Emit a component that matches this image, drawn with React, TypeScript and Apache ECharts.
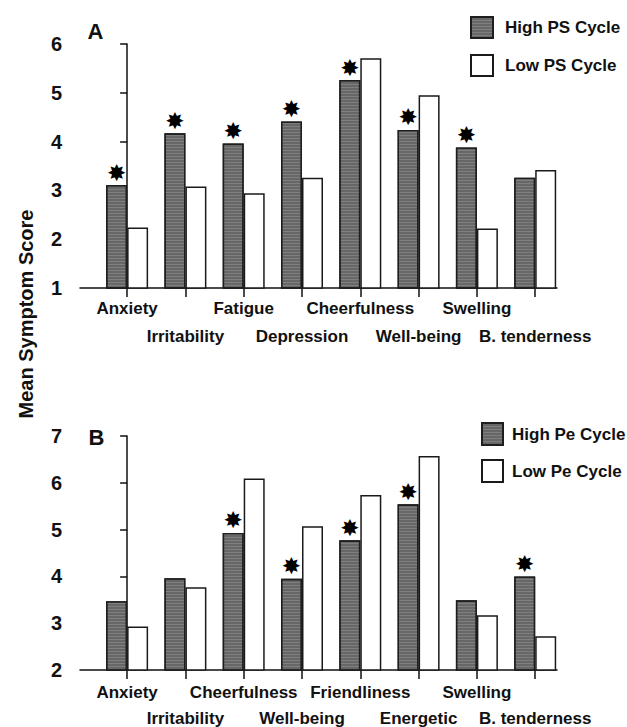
import React, { useEffect, useRef } from "react";
import * as echarts from "echarts";

// Panel A
const categoriesA = ["Anxiety", "Irritability", "Fatigue", "Depression", "Cheerfulness", "Well-being", "Swelling", "B. tenderness"];
const highPS = [3.11, 4.17, 3.96, 4.41, 5.26, 4.24, 3.88, 3.26];
const lowPS = [2.24, 3.08, 2.94, 3.26, 5.71, 4.95, 2.22, 3.42];
const sigA = [true, true, true, true, true, true, true, false];

// Panel B
const categoriesB = ["Anxiety", "Irritability", "Cheerfulness", "Well-being", "Friendliness", "Energetic", "Swelling", "B. tenderness"];
const highPe = [3.47, 3.96, 4.93, 3.95, 4.77, 5.54, 3.49, 4.0];
const lowPe = [2.93, 3.77, 6.09, 5.07, 5.74, 6.57, 3.17, 2.72];
const sigB = [false, false, true, true, true, true, false, true];

const yTicksA = [1, 2, 3, 4, 5, 6];
const yTicksB = [2, 3, 4, 5, 6, 7];

const FONT = "'Liberation Sans', Arial, Helvetica, sans-serif";
const INK = "#111";

export default function App() {
  const ref = useRef<HTMLDivElement>(null);

  useEffect(() => {
    if (!ref.current) return;
    const chart = echarts.init(ref.current, null, { renderer: "svg" });

    const idx = categoriesA.map((_, i) => i);
    const evenIdx = idx.filter((i) => i % 2 === 0);
    const oddIdx = idx.filter((i) => i % 2 === 1);
    const pairs = (vals: number[]) => vals.map((v, i) => [i, v]);

    const labelStyle = {
      fontFamily: FONT,
      fontWeight: "bold",
      fontSize: 17,
      color: INK,
      hideOverlap: false,
    };

    // main axis: line, all ticks, labels of even categories (upper row)
    const xMain = (gridIndex: number, cats: string[], margin: number) => ({
      type: "value",
      gridIndex,
      position: "bottom",
      min: -0.808,
      max: 7.374,
      axisLine: { show: true, onZero: false, lineStyle: { color: INK, width: 1.5 } },
      axisTick: { show: true, customValues: idx, length: 9, lineStyle: { color: INK, width: 1.5 } },
      axisLabel: { ...labelStyle, customValues: evenIdx, margin, formatter: (v: number) => cats[Math.round(v)] },
      splitLine: { show: false },
    });

    // secondary axis: labels of odd categories (lower row)
    const xOdd = (gridIndex: number, cats: string[], margin: number) => ({
      type: "value",
      gridIndex,
      position: "bottom",
      offset: 0,
      min: -0.808,
      max: 7.374,
      axisLine: { show: false, onZero: false },
      axisTick: { show: false },
      axisLabel: { ...labelStyle, customValues: oddIdx, margin, formatter: (v: number) => cats[Math.round(v)] },
      splitLine: { show: false },
    });

    const yAxisFor = (gridIndex: number, ticks: number[]) => ({
      type: "value",
      gridIndex,
      min: ticks[0],
      max: ticks[ticks.length - 1],
      interval: 1,
      axisLine: { show: true, lineStyle: { color: INK, width: 1.5 } },
      axisTick: { show: true, length: 7, lineStyle: { color: INK, width: 1.5 } },
      axisLabel: { margin: 18, fontFamily: FONT, fontWeight: "bold", fontSize: 20, color: INK, showMinLabel: true, showMaxLabel: true },
      splitLine: { show: false },
    });

    const highStyle = {
      color: "#676767",
      borderColor: "#1e1e1e",
      borderWidth: 1.4,
      decal: {
        symbol: "rect",
        symbolSize: 1,
        color: "rgba(255,255,255,0.16)",
        dashArrayX: [1, 0],
        dashArrayY: [1, 2],
        rotation: 0,
      },
    };
    const lowStyle = { color: "#ffffff", borderColor: "#1a1a1a", borderWidth: 1.5 };

    const starLabel = (sig: boolean[]) => ({
      show: true,
      position: "top",
      distance: 1,
      fontFamily: "'DejaVu Sans', sans-serif",
      fontSize: 23,
      color: "#000",
      formatter: (p: any) => (sig[p.dataIndex] ? "✸" : ""),
    });

    const legendFor = (names: string[], left: number, top: number, w: number, h: number, gap: number, pad: number) => ({
      data: names,
      orient: "vertical",
      left,
      top,
      itemWidth: w,
      itemHeight: h,
      itemGap: gap,
      icon: "rect",
      padding: 0,
      textStyle: { fontFamily: FONT, fontWeight: "bold", fontSize: 17, color: INK, padding: [0, 0, 0, pad] },
    });

    chart.setOption({
      animation: false,
      backgroundColor: "#ffffff",
      grid: [
        { left: 80, right: 70, top: 44, height: 244 },
        { left: 80, right: 70, top: 436, height: 235 },
      ],
      xAxis: [
        xMain(0, categoriesA, 12),
        xOdd(0, categoriesA, 40),
        xMain(1, categoriesB, 14),
        xOdd(1, categoriesB, 40),
      ],
      yAxis: [yAxisFor(0, yTicksA), yAxisFor(1, yTicksB)],
      legend: [
        legendFor(["High PS Cycle", "Low PS Cycle"], 470, 16, 22, 21, 15, 7),
        legendFor(["High Pe Cycle", "Low Pe Cycle"], 481, 422, 21, 22, 13, 4),
      ],
      graphic: [
        { type: "text", x: 95.5, y: 31, style: { text: "A", fontFamily: FONT, fontWeight: "bold", fontSize: 22, fill: INK, textAlign: "center", textVerticalAlign: "middle" } },
        { type: "text", x: 96.5, y: 437, style: { text: "B", fontFamily: FONT, fontWeight: "bold", fontSize: 22, fill: INK, textAlign: "center", textVerticalAlign: "middle" } },
        { type: "text", x: 26, y: 314, rotation: Math.PI / 2, style: { text: "Mean Symptom Score", fontFamily: FONT, fontWeight: "bold", fontSize: 20, fill: INK, textAlign: "center", textVerticalAlign: "middle" } },
      ],
      series: [
        { name: "High PS Cycle", type: "bar", xAxisIndex: 0, yAxisIndex: 0, data: pairs(highPS), barWidth: 21, barGap: "0%", itemStyle: highStyle, label: starLabel(sigA) },
        { name: "Low PS Cycle", type: "bar", xAxisIndex: 0, yAxisIndex: 0, data: pairs(lowPS), barWidth: 21, barGap: "0%", itemStyle: lowStyle },
        { name: "High Pe Cycle", type: "bar", xAxisIndex: 2, yAxisIndex: 1, data: pairs(highPe), barWidth: 21, barGap: "0%", itemStyle: highStyle, label: starLabel(sigB) },
        { name: "Low Pe Cycle", type: "bar", xAxisIndex: 2, yAxisIndex: 1, data: pairs(lowPe), barWidth: 21, barGap: "0%", itemStyle: lowStyle },
      ],
    });

    return () => chart.dispose();
  }, []);

  return (
    <div
      ref={ref}
      style={{ position: "fixed", left: 0, top: 0, width: 627, height: 727, background: "#fff" }}
    />
  );
}
